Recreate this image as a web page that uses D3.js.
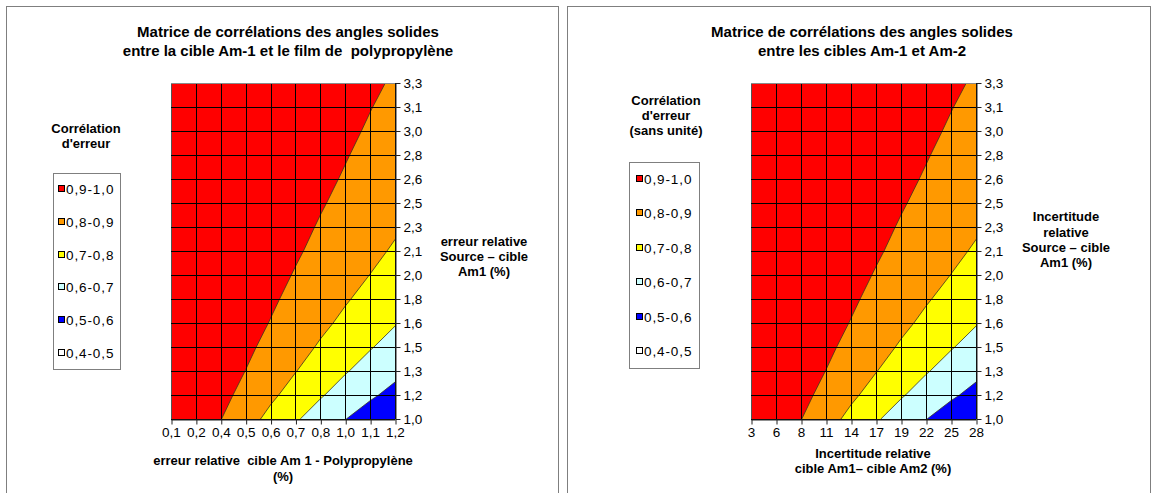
<!DOCTYPE html>
<html><head><meta charset="utf-8">
<script src="https://cdn.jsdelivr.net/npm/d3@7"></script>
<style>
body{margin:0;background:#fff}
svg{display:block}
text{font-family:"Liberation Sans",Arial,sans-serif;fill:#000;white-space:pre}
</style></head>
<body>
<svg id="chart" width="1156" height="493"></svg>
<script>
// ---- data ----
const xCatsPP = ["0,1","0,2","0,4","0,5","0,6","0,7","0,8","1,0","1,1","1,2"];
const xCatsAm2 = ["3","6","8","11","14","17","19","22","25","28"];
const yCats = ["1,0","1,2","1,3","1,5","1,6","1,8","2,0","2,1","2,3","2,5","2,6","2,8","3,0","3,1","3,3"];
const bandNames = ["0,9-1,0","0,8-0,9","0,7-0,8","0,6-0,7","0,5-0,6","0,4-0,5"];
const bandLows = [0.9,0.8,0.7,0.6,0.5,0.4];
const bandColors = ["#ff0000","#ff9900","#ffff00","#ccffff","#0000ff","#ffffff"];

// correlation values, one row per y category (1,0 ... 3,3), one column per x category
const corrPP = [
  [0.990,0.956,0.902,0.839,0.774,0.711,0.654,0.602,0.555,0.514],
  [0.993,0.967,0.925,0.874,0.818,0.763,0.709,0.659,0.614,0.573],
  [0.995,0.974,0.941,0.899,0.852,0.803,0.754,0.707,0.664,0.623],
  [0.996,0.979,0.952,0.917,0.877,0.834,0.790,0.747,0.706,0.667],
  [0.996,0.983,0.961,0.931,0.897,0.859,0.820,0.781,0.742,0.705],
  [0.997,0.986,0.967,0.942,0.912,0.879,0.844,0.808,0.773,0.738],
  [0.998,0.988,0.972,0.951,0.925,0.895,0.864,0.831,0.799,0.766],
  [0.998,0.990,0.976,0.957,0.935,0.909,0.881,0.851,0.821,0.790],
  [0.998,0.991,0.979,0.963,0.943,0.920,0.894,0.867,0.840,0.811],
  [0.998,0.992,0.982,0.968,0.950,0.929,0.906,0.882,0.856,0.830],
  [0.999,0.993,0.984,0.971,0.955,0.937,0.916,0.894,0.870,0.846],
  [0.999,0.994,0.986,0.974,0.960,0.943,0.925,0.904,0.882,0.860],
  [0.999,0.995,0.987,0.977,0.964,0.949,0.932,0.913,0.893,0.872],
  [0.999,0.995,0.989,0.979,0.968,0.954,0.938,0.921,0.902,0.883],
  [0.999,0.996,0.990,0.981,0.971,0.958,0.944,0.928,0.911,0.893]
];
const corrAm2 = [
  [0.990,0.956,0.902,0.839,0.774,0.711,0.654,0.602,0.555,0.514],
  [0.993,0.967,0.925,0.874,0.818,0.763,0.709,0.659,0.614,0.573],
  [0.995,0.974,0.941,0.899,0.852,0.803,0.754,0.707,0.664,0.623],
  [0.996,0.979,0.952,0.917,0.877,0.834,0.790,0.747,0.706,0.667],
  [0.996,0.983,0.961,0.931,0.897,0.859,0.820,0.781,0.742,0.705],
  [0.997,0.986,0.967,0.942,0.912,0.879,0.844,0.808,0.773,0.738],
  [0.998,0.988,0.972,0.951,0.925,0.895,0.864,0.831,0.799,0.766],
  [0.998,0.990,0.976,0.957,0.935,0.909,0.881,0.851,0.821,0.790],
  [0.998,0.991,0.979,0.963,0.943,0.920,0.894,0.867,0.840,0.811],
  [0.998,0.992,0.982,0.968,0.950,0.929,0.906,0.882,0.856,0.830],
  [0.999,0.993,0.984,0.971,0.955,0.937,0.916,0.894,0.870,0.846],
  [0.999,0.994,0.986,0.974,0.960,0.943,0.925,0.904,0.882,0.860],
  [0.999,0.995,0.987,0.977,0.964,0.949,0.932,0.913,0.893,0.872],
  [0.999,0.995,0.989,0.979,0.968,0.954,0.938,0.921,0.902,0.883],
  [0.999,0.996,0.990,0.981,0.971,0.958,0.944,0.928,0.911,0.893]
];

const titlePP = ["Matrice de corrélations des angles solides","entre la cible Am-1 et le film de  polypropylène"];
const titleAm2 = ["Matrice de corrélations des angles solides","entre les cibles Am-1 et Am-2"];

// ---- drawing ----
const svg = d3.select("#chart");
const defs = svg.append("defs");

function lines(g, arr, cx, ys, size, bold) {
  arr.forEach((s, k) => {
    g.append("text").attr("x", cx).attr("y", ys[k]).attr("text-anchor", "middle")
      .attr("font-size", size).attr("font-weight", bold ? "bold" : "normal").text(s);
  });
}

function panel(o) {
  const g = svg.append("g");
  g.append("rect").attr("x", o.fx + 0.5).attr("y", 6.5).attr("width", o.fw).attr("height", 540)
    .attr("fill", "none").attr("stroke", "#7f7f7f");

  const x = d3.scalePoint().domain(o.xCats).range([o.l, o.r]);
  const y = d3.scalePoint().domain(yCats).range([o.b, o.t]);
  const xi = d3.scaleLinear().domain([0, o.xCats.length - 1]).range([o.l, o.r]);
  const yi = d3.scaleLinear().domain([0, yCats.length - 1]).range([o.b, o.t]);

  const nx = o.xCats.length, ny = yCats.length;
  const cs = d3.contours().size([nx, ny]).thresholds(bandLows.slice().reverse())(o.values.flat());
  const proj = d3.geoTransform({ point(px, py) { this.stream.point(xi(px - 0.5), yi(py - 0.5)); } });
  const path = d3.geoPath(proj);

  const cid = "clip" + o.id;
  defs.append("clipPath").attr("id", cid).append("rect")
    .attr("x", o.l).attr("y", o.t).attr("width", o.r - o.l).attr("height", o.b - o.t);

  g.append("g").attr("clip-path", `url(#${cid})`).selectAll("path").data(cs).join("path")
    .attr("d", path)
    .attr("fill", d => bandColors[bandLows.indexOf(d.value)])
    .attr("stroke", "#3a3420").attr("stroke-width", 0.8);

  const grid = g.append("g").attr("stroke", "#000").attr("stroke-width", 1);
  grid.selectAll("line.v").data(o.xCats).join("line").attr("class", "v")
    .attr("x1", d => Math.round(x(d)) + 0.5).attr("x2", d => Math.round(x(d)) + 0.5)
    .attr("y1", o.t).attr("y2", o.b)
    .attr("stroke", (d, k) => k === 0 ? "#555" : "#000");
  grid.selectAll("line.h").data(yCats).join("line").attr("class", "h")
    .attr("y1", d => Math.round(y(d)) + 0.5).attr("y2", d => Math.round(y(d)) + 0.5)
    .attr("x1", o.l).attr("x2", o.r)
    .attr("stroke", (d, k) => k === yCats.length - 1 ? "#8a8a8a" : "#000");

  const ax = g.append("g").attr("transform", `translate(0,${Math.round(o.b) + 0.5})`)
    .call(d3.axisBottom(x).tickSize(5).tickSizeOuter(0));
  const ay = g.append("g").attr("transform", `translate(${Math.round(o.r) + 0.5},0)`)
    .call(d3.axisRight(y).tickSize(5).tickSizeOuter(0));
  [ax, ay].forEach(a => {
    a.attr("font-size", null).attr("font-family", null);
    a.selectAll("text").attr("font-size", 13.5);
    a.selectAll("line,path").attr("stroke", "#222");
  });
  ax.selectAll(".tick line").attr("transform", "translate(0.5,0)");

  lines(g, o.title, o.tcx, [37, 56], 15, true);
  lines(g, o.legTitle, o.ltcx, o.ltys, 13, true);
  lines(g, o.yTitle, o.ycx, o.yys, 13, true);
  lines(g, o.xTitle, o.xcx, o.xys, 13, true);

  const lg = g.append("g");
  lg.append("rect").attr("x", o.lb[0] + 0.5).attr("y", o.lb[1] + 0.5).attr("width", o.lb[2]).attr("height", o.lb[3])
    .attr("fill", "#fff").attr("stroke", "#7f7f7f");
  const it = lg.selectAll("g.item").data(bandNames).join("g").attr("class", "item")
    .attr("transform", (d, k) => `translate(${o.sqX},${Math.round(o.iy0 + k * o.idy)})`);
  it.append("rect").attr("x", 0.5).attr("y", -3.5).attr("width", 6).attr("height", 6)
    .attr("fill", (d, k) => bandColors[k]).attr("stroke", "#000");
  it.append("text").attr("x", 8).attr("y", 5).attr("font-size", 13.5).attr("letter-spacing", 0.9).text(d => d);
}

panel({
  id: "A", fx: 6, fw: 552, l: 171, r: 395, t: 83, b: 419,
  xCats: xCatsPP, values: corrPP, title: titlePP, tcx: 288,
  legTitle: ["Corrélation", "d'erreur"], ltcx: 86, ltys: [133, 148],
  lb: [53, 173, 67, 196], sqX: 58, iy0: 189, idy: 32.8,
  yTitle: ["erreur relative", "Source – cible", "Am1 (%)"], ycx: 484, yys: [246, 261, 276],
  xTitle: ["erreur relative  cible Am 1 - Polypropylène", "(%)"], xcx: 283, xys: [465, 481]
});
panel({
  id: "B", fx: 567, fw: 583, l: 751, r: 976, t: 83, b: 419,
  xCats: xCatsAm2, values: corrAm2, title: titleAm2, tcx: 862,
  legTitle: ["Corrélation", "d'erreur", "(sans unité)"], ltcx: 666, ltys: [105, 120, 135],
  lb: [629, 162, 70, 206], sqX: 636, iy0: 179, idy: 34.4,
  yTitle: ["Incertitude", "relative", "Source – cible", "Am1 (%)"], ycx: 1066, yys: [221, 237, 252, 267],
  xTitle: ["Incertitude relative", "cible Am1– cible Am2 (%)"], xcx: 873, xys: [458, 473]
});
</script>
</body></html>
